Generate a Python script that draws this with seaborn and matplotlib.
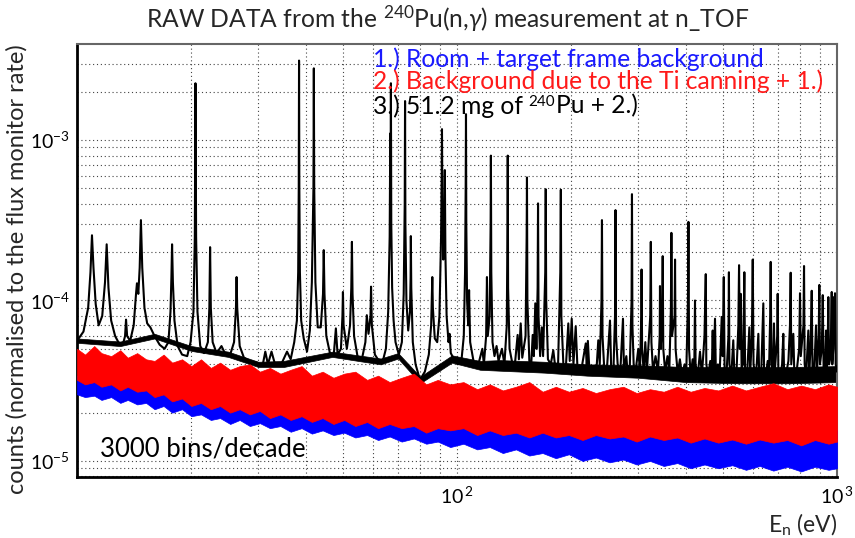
import matplotlib
matplotlib.use("Agg")
import matplotlib.pyplot as plt
import matplotlib.ticker as mticker
import seaborn as sns

# 3.) 51.2 mg of 240Pu + 2.)  -- (energy eV, counts)
pu_10_45 = [
    (10.0, 5.6e-5), (10.4, 6.4e-5), (10.7, 9.0e-5), (10.85, 1.5e-4), (10.95, 2.55e-4),
    (11.05, 1.6e-4), (11.2, 9.5e-5), (11.4, 7.0e-5), (11.65, 8.0e-5), (11.85, 1.3e-4),
    (11.97, 2.24e-4), (12.1, 1.2e-4), (12.3, 7.5e-5), (12.6, 6.0e-5), (12.9, 5.4e-5),
    (13.2, 5.3e-5), (13.38, 6.0e-5), (13.46, 7.6e-5), (13.55, 6.0e-5), (13.8, 5.6e-5),
    (14.1, 7.0e-5), (14.3, 1.1e-4), (14.38, 1.28e-4), (14.5, 1.1e-4), (14.62, 1.6e-4),
    (14.73, 3.17e-4), (14.85, 1.6e-4), (15.05, 9.0e-5), (15.3, 7.2e-5), (15.6, 6.8e-5),
    (16.0, 6.0e-5), (16.5, 5.3e-5), (17.0, 5.0e-5), (17.4, 5.5e-5), (17.62, 8.5e-5),
    (17.72, 1.4e-4), (17.79, 2.24e-4), (17.88, 1.3e-4), (18.05, 7.5e-5), (18.4, 5.2e-5),
    (18.9, 4.6e-5), (19.5, 4.5e-5), (19.9, 5.5e-5), (20.25, 8.5e-5), (20.42, 2.5e-4),
    (20.5, 2.26e-3), (20.58, 2.5e-4), (20.75, 8.5e-5), (21.1, 5.2e-5), (21.6, 4.7e-5),
    (22.1, 5.5e-5), (22.3, 9.0e-5), (22.4, 2.15e-4), (22.5, 9.0e-5), (22.75, 5.5e-5),
    (23.3, 4.7e-5), (24.0, 5.2e-5), (24.6, 4.6e-5), (25.3, 4.6e-5), (25.9, 5.5e-5),
    (26.2, 9.0e-5), (26.3, 1.4e-4), (26.4, 9.0e-5), (26.8, 5.2e-5), (27.5, 4.4e-5),
    (28.5, 4.2e-5), (29.7, 4.1e-5), (30.8, 3.95e-5), (31.3, 4.8e-5), (31.8, 4.0e-5),
    (32.5, 4.8e-5), (33.2, 4.0e-5), (34.3, 3.9e-5), (35.7, 4.8e-5), (36.5, 4.3e-5),
    (37.3, 5.5e-5), (37.9, 7.5e-5), (38.2, 1.5e-4), (38.33, 5.0e-4), (38.4, 3.13e-3),
    (38.47, 5.0e-4), (38.6, 1.5e-4), (38.9, 7.5e-5), (39.5, 5.8e-5), (40.3, 4.8e-5),
    (41.0, 6.5e-5), (41.5, 1.3e-4), (41.9, 5.0e-4), (42.0, 2.8e-3), (42.1, 5.0e-4),
    (42.4, 1.3e-4), (43.0, 6.8e-5), (43.8, 6.8e-5), (44.4, 1.1e-4), (44.6, 2.06e-4),
    (44.8, 1.1e-4), (45.3, 6.0e-5),
]
pu_45_110 = [
    (46.3, 4.7e-5), (47.4, 4.6e-5), (48.0, 6.7e-5), (48.5, 4.6e-5), (49.5, 5.0e-5),
    (49.95, 8.0e-5), (50.1, 1.13e-4), (50.3, 7.0e-5), (51.3, 5.0e-5), (52.3, 7.0e-5),
    (52.7, 1.2e-4), (52.9, 2.32e-4), (53.1, 1.1e-4), (53.6, 6.0e-5), (54.8, 4.4e-5),
    (56.3, 4.4e-5), (57.4, 5.5e-5), (57.9, 8.1e-5), (58.5, 6.2e-5), (59.2, 8.0e-5),
    (59.4, 1.22e-4), (59.7, 7.0e-5), (60.8, 4.6e-5), (62.3, 4.2e-5), (63.8, 4.2e-5),
    (65.0, 5.0e-5), (65.9, 8.5e-5), (66.5, 2.5e-4), (66.75, 1.1e-3), (66.85, 4.0e-4),
    (67.0, 2.26e-3), (67.15, 3.0e-4), (67.5, 1.2e-4), (68.1, 7.5e-5), (68.9, 5.5e-5),
    (70.3, 4.6e-5), (71.6, 5.5e-5), (72.4, 1.1e-4), (72.85, 4.0e-4), (73.0, 1.75e-3),
    (73.15, 3.0e-4), (73.6, 1.0e-4), (74.4, 6.5e-5), (75.2, 8.5e-5), (75.5, 1.4e-4),
    (75.6, 2.52e-4), (75.8, 1.2e-4), (76.5, 5.5e-5), (77.8, 4.0e-5), (79.9, 3.2e-5),
    (82.3, 3.6e-5), (84.3, 4.6e-5), (85.5, 7.0e-5), (85.9, 1.1e-4), (86.1, 1.4e-4),
    (86.4, 9.0e-5), (87.4, 5.8e-5), (88.7, 5.5e-5), (89.9, 8.0e-5), (90.8, 2.5e-4),
    (91.15, 6.0e-4), (91.3, 1.17e-3), (91.5, 5.0e-4), (92.0, 1.8e-4), (92.6, 2.5e-4),
    (92.9, 6.5e-4), (93.2, 2.0e-4), (93.9, 8.0e-5), (95.0, 5.5e-5), (95.6, 6.2e-5),
    (96.3, 4.7e-5), (98.2, 4.3e-5), (100.5, 4.0e-5), (102.8, 4.3e-5), (104.2, 6.0e-5),
    (105.0, 1.5e-4), (105.4, 5.0e-4), (105.6, 1.45e-3), (105.8, 3.0e-4), (106.3, 1.0e-4),
    (107.0, 7.0e-5), (107.6, 1.16e-4), (108.3, 5.5e-5),
]
pu_110_300 = [
    (110.5, 4.2e-5), (113.5, 3.9e-5), (116.6, 5.0e-5), (117.7, 4.0e-5), (119.3, 6.0e-5),
    (119.9, 1.4e-4), (120.5, 6.0e-5), (121.9, 8.0e-5), (122.6, 3.0e-4), (122.8, 8.0e-4),
    (123.1, 1.5e-4), (124.0, 5.5e-5), (125.5, 4.5e-5), (127.1, 5.2e-5), (128.6, 4.2e-5),
    (131.3, 5.0e-5), (133.3, 4.0e-5), (135.2, 7.0e-5), (135.8, 3.0e-4), (136.0, 8.0e-4),
    (136.3, 1.2e-4), (137.5, 5.0e-5), (140.0, 4.0e-5), (142.3, 4.2e-5), (144.4, 6.1e-5),
    (145.5, 4.3e-5), (147.1, 7.2e-5), (148.5, 4.4e-5), (151.5, 6.0e-5), (152.5, 2.5e-4),
    (152.8, 5.85e-4), (153.2, 1.0e-4), (155.0, 4.2e-5), (156.8, 4.0e-5), (158.2, 6.1e-5),
    (159.3, 4.5e-5), (160.7, 9.6e-5), (161.8, 5.0e-5), (163.0, 1.2e-4), (163.4, 4.03e-4),
    (163.9, 8.0e-5), (165.5, 4.5e-5), (167.1, 6.8e-5), (168.5, 4.5e-5), (170.7, 1.5e-4),
    (171.2, 4.94e-4), (171.7, 1.0e-4), (173.5, 4.3e-5), (176.5, 4.0e-5), (179.2, 4.9e-5),
    (181.5, 3.8e-5), (184.5, 4.0e-5), (187.0, 1.5e-4), (187.6, 4.9e-4), (188.2, 8.0e-5),
    (190.5, 4.0e-5), (193.5, 3.9e-5), (196.3, 7.2e-5), (198.0, 4.2e-5), (200.4, 7.7e-5),
    (202.5, 4.0e-5), (205.3, 6.9e-5), (207.5, 3.8e-5), (212.0, 3.6e-5), (218.2, 5.4e-5),
    (219.5, 3.8e-5), (221.0, 5.6e-5), (223.0, 3.7e-5), (228.0, 3.6e-5), (233.0, 3.8e-5),
    (235.4, 5.65e-5), (237.5, 4.0e-5), (240.0, 1.0e-4), (240.7, 3.17e-4), (241.5, 6.0e-5),
    (244.0, 3.8e-5), (248.0, 3.7e-5), (252.7, 7.5e-5), (254.5, 3.8e-5), (258.0, 3.6e-5),
    (260.5, 8.0e-5), (261.3, 3.66e-4), (262.2, 6.0e-5), (265.0, 3.8e-5), (269.0, 3.6e-5),
    (273.4, 7.7e-5), (275.0, 3.7e-5), (279.0, 4.5e-5), (281.0, 3.6e-5), (285.0, 4.0e-5),
    (288.0, 1.0e-4), (288.7, 4.6e-4), (289.5, 7.0e-5), (292.0, 3.7e-5),
]
pu_300_1000 = [
    (295, 3.6e-5), (300, 5.0e-5), (303, 3.6e-5), (305.5, 8.0e-5), (306, 1.56e-4),
    (307, 5.0e-5), (310, 3.6e-5), (313, 5.5e-5), (316, 3.6e-5), (322.5, 8.0e-5),
    (323.6, 2.32e-4), (324.8, 5.5e-5), (328, 3.6e-5), (333, 4.5e-5), (338, 3.6e-5),
    (341.5, 6.0e-5), (342.1, 1.23e-4), (343.5, 5.0e-5), (346.5, 7.0e-5), (347.8, 1.89e-4),
    (349, 5.0e-5), (353, 3.6e-5), (358, 4.5e-5), (362, 3.6e-5), (365.5, 9.0e-5),
    (366.6, 2.64e-4), (368, 6.0e-5), (373.8, 8.0e-5), (374.8, 1.8e-4), (376, 5.0e-5),
    (381, 3.5e-5), (386, 4.3e-5), (391, 3.4e-5), (397, 4.0e-5), (401, 3.4e-5),
    (405.3, 1.0e-4), (406.5, 3.09e-4), (408, 5.0e-5), (412, 3.4e-5), (417, 4.3e-5),
    (421, 3.5e-5), (423, 1.0e-4), (424.5, 4.0e-5), (430, 3.4e-5), (436, 4.8e-5),
    (441, 3.4e-5), (448, 6.0e-5), (451.5, 1.46e-4), (453, 4.0e-5), (458, 3.4e-5),
    (464, 4.2e-5), (468, 3.4e-5), (470.9, 6.5e-5), (473, 3.5e-5), (477.5, 7.7e-5),
    (480, 3.5e-5), (486, 4.0e-5), (491, 3.4e-5), (497.3, 7.9e-5), (500, 4.5e-5),
    (503.6, 1.4e-4), (506, 3.8e-5), (512, 3.5e-5), (518, 6.0e-5), (519.5, 1.5e-4),
    (521, 4.0e-5), (527, 3.4e-5), (533.4, 5.65e-5), (537, 3.4e-5), (544, 3.6e-5),
    (550, 7.0e-5), (552.4, 1.66e-4), (555, 5.0e-5), (558.1, 1.1e-4), (561, 3.8e-5),
    (566, 4.0e-5), (570.4, 1.5e-4), (573, 3.6e-5), (580, 3.4e-5), (587.9, 6.8e-5),
    (591, 3.5e-5), (597, 6.0e-5), (600.2, 1.8e-4), (603, 4.0e-5), (610, 3.4e-5),
    (615, 4.0e-5), (620.9, 6.2e-5), (624, 3.4e-5), (632, 3.6e-5), (639.9, 9.6e-5),
    (643, 3.5e-5), (650, 3.4e-5), (657, 4.2e-5), (662, 3.4e-5), (667, 8.0e-5),
    (669.1, 1.74e-4), (672, 4.0e-5), (678, 3.6e-5), (682.6, 7.2e-5), (686, 3.6e-5),
    (696, 6.0e-5), (698.1, 1.1e-4), (701, 3.5e-5), (710, 3.4e-5), (717, 4.0e-5),
    (722.3, 6.2e-5), (726, 3.4e-5), (735, 3.5e-5), (745, 4.2e-5), (752, 7.0e-5),
    (755.3, 1.49e-4), (758, 4.0e-5), (767.4, 6.2e-5), (772, 3.6e-5), (782, 3.5e-5),
    (795, 5.0e-5), (799.2, 1.11e-4), (803, 4.5e-5), (816, 7.0e-5), (818.9, 1.64e-4),
    (822, 4.0e-5), (830, 3.5e-5), (840.5, 6.5e-5), (845, 3.6e-5), (852, 5.0e-5),
    (858, 1.15e-4), (862, 3.8e-5), (871, 3.6e-5), (880.7, 7.0e-5), (886, 3.6e-5),
    (895, 6.0e-5), (898.5, 1.25e-4), (902, 4.0e-5), (912, 5.0e-5), (917.3, 1.08e-4),
    (922, 3.8e-5), (930, 3.6e-5), (935.8, 6.5e-5), (940, 3.6e-5), (945, 5.0e-5),
    (948.8, 1.05e-4), (953, 4.0e-5), (962, 4.5e-5), (968.6, 1.13e-4), (972, 4.0e-5),
    (978, 5.0e-5), (982, 1.05e-4), (985, 6.0e-5), (988, 1.11e-4), (992, 4.0e-5),
    (1000, 3.6e-5),
]

# spread of the black spectrum between resonances: (energy, low, high)
pu_band = [
    (10, 5.45e-5, 5.8e-5), (13, 5.2e-5, 5.55e-5), (16, 5.8e-5, 6.2e-5),
    (20, 4.85e-5, 5.2e-5), (25, 4.45e-5, 4.8e-5), (30, 3.85e-5, 4.15e-5),
    (35, 3.85e-5, 4.2e-5), (47, 4.45e-5, 4.8e-5), (55, 4.2e-5, 4.55e-5),
    (63, 4.0e-5, 4.35e-5), (70, 4.35e-5, 4.7e-5), (80, 3.05e-5, 3.35e-5),
    (97, 4.1e-5, 4.55e-5), (115, 3.7e-5, 4.2e-5), (130, 3.65e-5, 4.25e-5),
    (170, 3.55e-5, 4.15e-5), (220, 3.4e-5, 4.0e-5), (300, 3.3e-5, 3.95e-5),
    (400, 3.1e-5, 3.85e-5), (550, 3.05e-5, 3.85e-5), (750, 3.05e-5, 3.85e-5),
    (1000, 3.1e-5, 3.9e-5),
]

# 2.) Ti canning (red): (energy, low edge, high edge) of the noise band
ti_band = [
    (10, 3.2e-5, 5.0e-5), (10.5, 3.0e-5, 4.6e-5), (11.1, 3.1e-5, 5.2e-5),
    (11.6, 2.9e-5, 4.7e-5), (12.3, 3.0e-5, 4.5e-5), (13, 2.75e-5, 4.9e-5),
    (13.6, 2.9e-5, 4.4e-5), (14.4, 2.7e-5, 4.7e-5), (15.2, 2.75e-5, 4.3e-5),
    (16, 2.5e-5, 4.2e-5), (16.9, 2.6e-5, 4.6e-5), (17.8, 2.35e-5, 4.1e-5),
    (18.9, 2.45e-5, 4.3e-5), (20, 2.2e-5, 3.9e-5), (21.2, 2.3e-5, 4.3e-5),
    (22.5, 2.1e-5, 3.8e-5), (23.8, 2.2e-5, 4.1e-5), (25.3, 2.0e-5, 3.7e-5),
    (26.8, 2.1e-5, 3.9e-5), (28.5, 1.95e-5, 4.0e-5), (30.3, 2.05e-5, 3.6e-5),
    (32.2, 1.85e-5, 3.8e-5), (34.3, 1.95e-5, 3.5e-5), (36.5, 1.8e-5, 3.7e-5),
    (39, 1.9e-5, 3.9e-5), (41.5, 1.75e-5, 3.4e-5), (44.3, 1.85e-5, 3.6e-5),
    (47.3, 1.7e-5, 3.3e-5), (50.5, 1.8e-5, 3.5e-5), (54, 1.65e-5, 3.6e-5),
    (58, 1.75e-5, 3.2e-5), (62, 1.6e-5, 3.4e-5), (66.5, 1.7e-5, 3.1e-5),
    (71.5, 1.6e-5, 3.3e-5), (77, 1.65e-5, 3.5e-5), (83, 1.5e-5, 3.0e-5),
    (89, 1.6e-5, 3.2e-5), (96, 1.55e-5, 3.0e-5), (104, 1.6e-5, 3.1e-5),
    (113, 1.45e-5, 2.8e-5), (122, 1.55e-5, 3.0e-5), (132, 1.45e-5, 2.75e-5),
    (143, 1.5e-5, 2.9e-5), (155, 1.4e-5, 3.1e-5), (168, 1.5e-5, 2.7e-5),
    (182, 1.4e-5, 2.9e-5), (197, 1.45e-5, 2.7e-5), (214, 1.35e-5, 2.85e-5),
    (232, 1.45e-5, 2.65e-5), (252, 1.38e-5, 2.8e-5), (274, 1.42e-5, 2.9e-5),
    (297, 1.32e-5, 2.65e-5), (322, 1.42e-5, 2.8e-5), (350, 1.35e-5, 2.7e-5),
    (380, 1.4e-5, 2.9e-5), (412, 1.3e-5, 2.7e-5), (448, 1.38e-5, 2.85e-5),
    (487, 1.3e-5, 2.75e-5), (530, 1.36e-5, 2.95e-5), (576, 1.28e-5, 2.75e-5),
    (626, 1.36e-5, 2.9e-5), (680, 1.3e-5, 3.05e-5), (740, 1.35e-5, 2.8e-5),
    (805, 1.25e-5, 2.95e-5), (875, 1.35e-5, 2.8e-5), (950, 1.28e-5, 3.0e-5),
    (1000, 1.32e-5, 2.9e-5),
]

# 1.) room + target frame (blue): (energy, low edge, high edge)
room_band = [
    (10, 2.6e-5, 3.4e-5), (10.5, 2.5e-5, 3.3e-5), (11.1, 2.55e-5, 3.3e-5),
    (11.6, 2.4e-5, 3.2e-5), (12.3, 2.5e-5, 3.2e-5), (13, 2.3e-5, 3.1e-5),
    (13.6, 2.4e-5, 3.1e-5), (14.4, 2.25e-5, 3.0e-5), (15.2, 2.3e-5, 3.0e-5),
    (16, 2.1e-5, 2.9e-5), (16.9, 2.2e-5, 2.85e-5), (17.8, 2.0e-5, 2.8e-5),
    (18.9, 2.1e-5, 2.7e-5), (20, 1.9e-5, 2.65e-5), (21.2, 1.95e-5, 2.6e-5),
    (22.5, 1.8e-5, 2.5e-5), (23.8, 1.85e-5, 2.5e-5), (25.3, 1.7e-5, 2.4e-5),
    (26.8, 1.8e-5, 2.4e-5), (28.5, 1.65e-5, 2.35e-5), (30.3, 1.72e-5, 2.3e-5),
    (32.2, 1.6e-5, 2.25e-5), (34.3, 1.65e-5, 2.2e-5), (36.5, 1.52e-5, 2.2e-5),
    (39, 1.6e-5, 2.15e-5), (41.5, 1.48e-5, 2.1e-5), (44.3, 1.55e-5, 2.1e-5),
    (47.3, 1.45e-5, 2.05e-5), (50.5, 1.5e-5, 2.0e-5), (54, 1.4e-5, 2.0e-5),
    (58, 1.45e-5, 1.95e-5), (62, 1.35e-5, 1.95e-5), (66.5, 1.42e-5, 1.9e-5),
    (71.5, 1.32e-5, 1.9e-5), (77, 1.38e-5, 1.85e-5), (83, 1.28e-5, 1.85e-5),
    (89, 1.32e-5, 1.8e-5), (96, 1.22e-5, 1.8e-5), (104, 1.28e-5, 1.78e-5),
    (113, 1.18e-5, 1.75e-5), (122, 1.22e-5, 1.75e-5), (132, 1.12e-5, 1.72e-5),
    (143, 1.18e-5, 1.7e-5), (155, 1.08e-5, 1.7e-5), (168, 1.12e-5, 1.68e-5),
    (182, 1.04e-5, 1.66e-5), (197, 1.1e-5, 1.65e-5), (214, 1.0e-5, 1.64e-5),
    (232, 1.05e-5, 1.63e-5), (252, 9.8e-6, 1.62e-5), (274, 1.02e-5, 1.6e-5),
    (297, 9.5e-6, 1.6e-5), (322, 1.0e-5, 1.6e-5), (350, 9.3e-6, 1.58e-5),
    (380, 9.7e-6, 1.58e-5), (412, 9.0e-6, 1.56e-5), (448, 9.5e-6, 1.56e-5),
    (487, 9.0e-6, 1.55e-5), (530, 9.4e-6, 1.55e-5), (576, 8.8e-6, 1.55e-5),
    (626, 9.3e-6, 1.55e-5), (680, 8.7e-6, 1.55e-5), (740, 9.2e-6, 1.55e-5),
    (805, 8.6e-6, 1.55e-5), (875, 9.2e-6, 1.55e-5), (950, 8.8e-6, 1.55e-5),
    (1000, 9.0e-6, 1.55e-5),
]

y_ticks = [1e-5, 1e-4, 1e-3]
y_labels = ["$10^{-5}$", "$10^{-4}$", "$10^{-3}$"]
x_ticks = [100, 1000]
x_labels = ["$10^{\\,2}$", "$10^{\\,3}$"]

sns.set_style("white")
plt.rcParams["font.family"] = ["Lato", "DejaVu Sans"]
plt.rcParams["mathtext.fontset"] = "custom"
plt.rcParams["mathtext.rm"] = "Lato"
plt.rcParams["mathtext.it"] = "Lato:italic"

fig = plt.figure(figsize=(8.55, 5.38), dpi=100)
ax = fig.add_axes([77 / 855, 61 / 538, 760 / 855, 433 / 538])
ax.set_xscale("log")
ax.set_yscale("log")
ax.set_xlim(10, 1000)
ax.set_ylim(7.94e-6, 3.97e-3)

pu_points = pu_10_45 + pu_45_110 + pu_110_300 + pu_300_1000
pu_energy = [p[0] for p in pu_points]
pu_counts = [p[1] for p in pu_points]


def band(ax, rows, color, z):
    e = [r[0] for r in rows]
    lo = [r[1] for r in rows]
    hi = [r[2] for r in rows]
    ax.fill_between(e, lo, hi, color=color, lw=0.5, edgecolor=color, zorder=z)


band(ax, pu_band, "black", 2)
sns.lineplot(x=pu_energy, y=pu_counts, color="black", lw=1.5, estimator=None,
             sort=False, ax=ax, zorder=3)
band(ax, room_band, "#0000ff", 4)
band(ax, ti_band, "#ff0000", 5)

ax.grid(which="both", ls=(0, (1, 2.5)), color="#444444", lw=0.8)
ax.set_axisbelow(True)

ax.yaxis.set_major_locator(mticker.FixedLocator(y_ticks))
ax.yaxis.set_major_formatter(mticker.FixedFormatter(y_labels))
ax.yaxis.set_minor_locator(mticker.LogLocator(base=10, subs=range(2, 10)))
ax.yaxis.set_minor_formatter(mticker.NullFormatter())
ax.xaxis.set_major_locator(mticker.FixedLocator(x_ticks))
ax.xaxis.set_major_formatter(mticker.FixedFormatter(x_labels))
ax.xaxis.set_minor_locator(mticker.LogLocator(base=10, subs=range(2, 10)))
ax.xaxis.set_minor_formatter(mticker.NullFormatter())

ax.tick_params(axis="y", which="major", direction="in", length=22, width=1.2,
               labelsize=14, pad=5, colors="black")
ax.tick_params(axis="y", which="minor", direction="in", length=11, width=1.2)
ax.tick_params(axis="x", which="major", direction="in", length=11, width=1.2,
               labelsize=14, pad=6, colors="black")
ax.tick_params(axis="x", which="minor", direction="in", length=7, width=1.2)

for side in ["left", "bottom"]:
    ax.spines[side].set_color("black")
    ax.spines[side].set_linewidth(2)
for side in ["top", "right"]:
    ax.spines[side].set_color("#666666")
    ax.spines[side].set_linewidth(1.5)

ax.set_xlabel("E$_{\\rm n}$ (eV)", fontsize=16.5, loc="right", labelpad=4)
ax.set_ylabel("counts (normalised to the flux monitor rate)", fontsize=17,
              loc="top", labelpad=2)

fig.text(448 / 855, 1 - 28 / 538,
         "RAW DATA from the $^{240}$Pu(n,$\\gamma$) measurement at n_TOF",
         ha="center", va="baseline", fontsize=17.7)

fig.text(373 / 855, 1 - 67 / 538, "1.) Room + target frame background",
         color="#1a1aff", fontsize=17.7, va="baseline")
fig.text(373 / 855, 1 - 89 / 538, "2.) Background due to the Ti canning + 1.)",
         color="#ff1a1a", fontsize=17.7, va="baseline")

# third line: mass number as its own small raised text, chained after the words
t3a = fig.text(373 / 855, 1 - 114 / 538, "3.) 51.2 mg of", color="black",
               fontsize=17.7, va="baseline")
t3b = ax.annotate("240", xy=(1, 0), xycoords=t3a, xytext=(5, 12),
                  textcoords="offset pixels", fontsize=11, va="baseline",
                  color="black", annotation_clip=False)
ax.annotate("Pu + 2.)", xy=(1, 0), xycoords=t3b, xytext=(1, -4),
            textcoords="offset pixels", fontsize=17.7, va="baseline",
            color="black", annotation_clip=False)

fig.text(100 / 855, 1 - 457 / 538, "3000 bins/decade", color="black",
         fontsize=18.5, va="baseline")

plt.savefig("out.png", dpi=100)
